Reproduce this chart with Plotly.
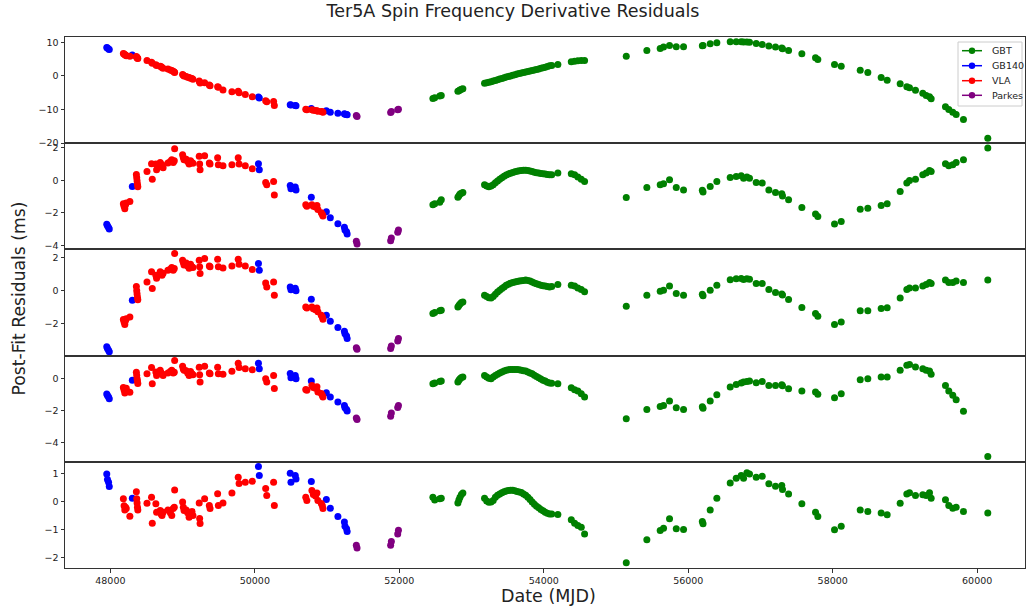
import plotly.graph_objects as go
from plotly.subplots import make_subplots

# ---------------- DATA ----------------
series_names = ["GBT", "GB140", "VLA", "Parkes"]
series_colors = {"GBT": "#008000", "GB140": "#0000ff", "VLA": "#ff0000", "Parkes": "#800080"}

gbt_mjd = [52465, 52490, 52560, 52581, 52811, 52825, 52840, 52860, 52880,
           53180, 53210, 53240, 53270, 53300, 53330, 53360, 53390, 53420, 53450, 53480, 53510,
           53540, 53570, 53600, 53630, 53660, 53690, 53720, 53750, 53780, 53810, 53840, 53870,
           53900, 53930, 53960, 53990, 54020, 54050, 54080, 54110,
           54195, 54381, 54427, 54472, 54519, 54565, 55142, 55427, 55612, 55658, 55741, 55834,
           55935, 56195, 56205, 56304, 56396, 56581, 56664, 56733, 56766, 56812, 56848, 56941,
           57024, 57116, 57208, 57295, 57305, 57389, 57573, 57762, 57794, 58025, 58118, 58381,
           58486, 58671, 58754, 58934, 59026, 59063, 59146, 59247, 59294, 59340, 59363, 59561,
           59607, 59662, 59709, 59810, 60147]
gbt_p1 = [-6.7, -6.5, -6.0, -5.8, -4.6, -4.4, -4.2, -4.0, -3.8,
          -2.2, -2.0, -1.9, -1.7, -1.55, -1.35, -1.15, -0.95, -0.75, -0.55, -0.35, -0.15,
          0.0, 0.2, 0.35, 0.55, 0.7, 0.9, 1.05, 1.2, 1.35, 1.5, 1.65, 1.8,
          1.95, 2.1, 2.25, 2.4, 2.6, 2.8, 3.0, 3.1,
          3.4, 4.2, 4.4, 4.5, 4.6, 4.6, 5.9, 7.6, 8.2, 8.6, 9.1, 8.7,
          8.7, 9.0, 9.1, 9.6, 9.9, 10.2, 10.2, 10.2, 10.1, 10.1, 10.0, 9.7,
          9.4, 8.9, 8.6, 8.3, 8.1, 7.6, 6.6, 5.4, 4.9, 3.4, 2.9, 1.7,
          1.0, -0.5, -1.3, -2.3, -3.2, -3.5, -4.3, -5.2, -5.8, -6.2, -6.8, -9.2,
          -10.0, -10.8, -11.5, -13.0, -18.6]
gbt_p2 = [-1.51, -1.45, -1.35, -1.2, -1.05, -0.95, -0.85, -0.8, -0.75,
          -0.28, -0.35, -0.4, -0.35, -0.28, -0.15, -0.05, 0.07, 0.15, 0.25, 0.32, 0.38,
          0.43, 0.48, 0.52, 0.56, 0.58, 0.6, 0.62, 0.62, 0.6, 0.57, 0.54, 0.5,
          0.47, 0.44, 0.42, 0.4, 0.38, 0.36, 0.34, 0.34,
          0.44, 0.4, 0.34, 0.2, 0.07, -0.07, -1.06, -0.44, -0.28, -0.22, 0.03, -0.44,
          -0.59, -0.62, -0.72, -0.38, -0.07, 0.17, 0.24, 0.28, 0.13, 0.2, 0.13, -0.13,
          -0.17, -0.59, -0.75, -0.83, -0.96, -1.2, -1.68, -2.07, -2.23, -2.69, -2.54, -1.78,
          -1.72, -1.55, -1.45, -0.69, -0.17, -0.01, 0.07, 0.34, 0.44, 0.6, 0.54, 1.02,
          0.9, 0.96, 1.1, 1.27, 1.99]
gbt_p3 = [-1.38, -1.32, -1.22, -1.18, -0.98, -0.9, -0.8, -0.72, -0.68,
          -0.27, -0.35, -0.42, -0.44, -0.35, -0.22, -0.08, 0.03, 0.13, 0.23, 0.33, 0.39,
          0.45, 0.5, 0.53, 0.56, 0.58, 0.6, 0.62, 0.64, 0.62, 0.58, 0.52, 0.47,
          0.42, 0.37, 0.33, 0.3, 0.28, 0.25, 0.23, 0.25,
          0.38, 0.33, 0.29, 0.17, 0.07, -0.07, -0.94, -0.27, -0.03, 0.03, 0.29, -0.17,
          -0.27, -0.22, -0.3, 0.03, 0.33, 0.66, 0.72, 0.74, 0.68, 0.72, 0.7, 0.44,
          0.44, 0.07, -0.11, -0.2, -0.26, -0.53, -1.02, -1.38, -1.55, -2.05, -1.89, -1.22,
          -1.22, -1.08, -1.04, -0.44, 0.07, 0.17, 0.17, 0.29, 0.38, 0.5, 0.44, 0.64,
          0.5, 0.5, 0.58, 0.5, 0.64]
gbt_p4 = [-0.31, -0.27, -0.18, -0.15, -0.21, -0.1, 0.0, 0.08, 0.1,
          0.2, 0.1, 0.02, 0.0, 0.1, 0.2, 0.28, 0.35, 0.42, 0.48, 0.52, 0.55,
          0.57, 0.58, 0.58, 0.57, 0.56, 0.53, 0.5, 0.48, 0.42, 0.36, 0.31, 0.22,
          0.14, 0.06, -0.02, -0.1, -0.15, -0.22, -0.27, -0.29,
          -0.31, -0.56, -0.69, -0.77, -0.94, -1.15, -2.5, -1.92, -1.73, -1.67, -1.4, -1.81,
          -1.92, -1.75, -1.85, -1.4, -1.0, -0.52, -0.36, -0.27, -0.21, -0.18, -0.15, -0.25,
          -0.17, -0.42, -0.42, -0.38, -0.45, -0.63, -0.77, -0.84, -0.98, -1.19, -0.94, -0.06,
          0.0, 0.1, 0.1, 0.52, 0.83, 0.88, 0.73, 0.62, 0.52, 0.48, 0.27, -0.42,
          -0.77, -1.04, -1.31, -2.04, -4.86]
gbt_p5 = [0.15, 0.05, 0.1, 0.12, -0.05, 0.05, 0.15, 0.25, 0.3,
          0.12, 0.02, -0.03, -0.02, 0.04, 0.15, 0.22, 0.27, 0.31, 0.35, 0.37, 0.39,
          0.4, 0.4, 0.38, 0.36, 0.34, 0.32, 0.27, 0.22, 0.15, 0.07, -0.02, -0.1,
          -0.17, -0.22, -0.28, -0.33, -0.38, -0.42, -0.44, -0.44,
          -0.46, -0.65, -0.77, -0.85, -0.91, -1.15, -2.17, -1.36, -1.03, -0.95, -0.61, -0.97,
          -0.99, -0.71, -0.79, -0.3, 0.12, 0.66, 0.83, 0.92, 0.83, 1.02, 0.98, 0.86,
          0.9, 0.63, 0.54, 0.57, 0.43, 0.27, -0.08, -0.38, -0.53, -1.0, -0.88, -0.3,
          -0.35, -0.41, -0.47, -0.06, 0.27, 0.31, 0.21, 0.24, 0.21, 0.31, 0.12, 0.06,
          -0.14, -0.24, -0.2, -0.35, -0.41]

gb140_mjd = [47950, 47960, 47975, 47985, 48304, 50050, 50062, 50490, 50500, 50560, 50570,
             50782, 50990, 51045, 51150, 51240, 51248, 51270, 51278]
gb140_p1 = [8.5, 8.3, 8.0, 7.9, 6.2, -6.3, -6.6, -8.6, -8.7, -8.8, -8.9,
            -9.7, -10.4, -10.8, -11.1, -11.3, -11.4, -11.5, -11.6]
gb140_p2 = [-2.7, -2.8, -2.9, -3.0, -0.38, 1.02, 0.65, -0.32, -0.52, -0.42, -0.59,
            -1.04, -1.93, -2.3, -2.67, -2.89, -3.06, -3.16, -3.3]
gb140_p3 = [-3.4, -3.5, -3.6, -3.7, -0.58, 1.65, 1.24, 0.23, 0.05, 0.15, 0.0,
            -0.52, -1.48, -1.85, -2.23, -2.45, -2.6, -2.74, -2.9]
gb140_p4 = [-0.95, -1.05, -1.15, -1.25, -0.1, 0.97, 0.62, 0.33, 0.05, 0.2, 0.0,
            -0.15, -0.88, -1.15, -1.46, -1.67, -1.81, -1.92, -2.02]
gb140_p5 = [0.98, 0.78, 0.68, 0.53, 0.12, 1.24, 0.92, 1.0, 0.68, 0.92, 0.8,
            0.71, 0.07, -0.24, -0.53, -0.73, -0.88, -0.97, -1.06]

vla_mjd = [48180, 48190, 48200, 48210, 48220, 48270, 48360, 48365, 48370, 48375, 48380,
           48507, 48570, 48580, 48630, 48640, 48690, 48705, 48715, 48730, 48797, 48830,
           48850, 48870, 48885, 48890, 49000, 49010, 49020, 49050, 49070, 49090, 49110,
           49130, 49143, 49230, 49236, 49242, 49305, 49370, 49380, 49485, 49495, 49559,
           49683, 49770, 49782, 49868, 49965, 50150, 50165, 50260, 50270, 50705, 50720,
           50790, 50810, 50840, 50860, 50873, 50920, 50935, 50943]
vla_p1 = [6.7, 6.5, 6.3, 6.2, 6.0, 5.9, 5.8, 5.6, 5.5, 5.3, 5.2,
          4.6, 4.1, 3.8, 3.3, 3.1, 2.9, 2.7, 2.5, 2.3, 2.1, 1.8,
          1.6, 1.4, 1.2, 1.0, 0.4, 0.2, 0.0, -0.2, -0.4, -0.5, -0.7,
          -0.8, -1.0, -1.5, -1.8, -2.1, -2.0, -2.7, -2.9, -3.2, -3.4, -4.2,
          -4.7, -4.6, -5.0, -5.5, -6.2, -7.4, -7.7, -7.6, -8.8, -9.9, -10.1,
          -10.1, -10.2, -10.3, -10.4, -10.5, -10.6, -10.7, -10.8]
vla_p2 = [-1.45, -1.6, -1.75, -1.5, -1.4, -1.3, 0.35, 0.15, -0.05, -0.25, -0.4,
          0.54, 1.02, 0.07, 1.0, 0.65, 1.1, 0.85, 0.95, 0.77, 1.06, 1.15,
          1.26, 1.1, 1.2, 1.94, 1.57, 1.4, 1.26, 1.3, 1.15, 1.0, 1.2,
          1.1, 1.05, 1.47, 1.0, 0.65, 1.51, 1.06, 1.0, 1.38, 0.96, 0.9,
          0.96, 1.38, 1.0, 0.9, 0.71, -0.13, -0.28, -0.07, -0.9, -1.51, -1.6,
          -1.5, -1.6, -1.65, -1.55, -1.8, -2.0, -2.1, -2.2]
vla_p3 = [-1.75, -1.9, -2.05, -1.8, -1.7, -1.6, 0.25, 0.0, -0.2, -0.4, -0.55,
          0.53, 1.14, 0.13, 0.94, 0.76, 1.14, 1.0, 0.94, 1.05, 1.24, 1.3,
          1.4, 1.24, 1.35, 2.25, 1.85, 1.7, 1.55, 1.67, 1.5, 1.36, 1.6,
          1.45, 1.4, 1.85, 1.45, 1.04, 1.95, 1.5, 1.45, 1.9, 1.45, 1.38,
          1.5, 1.9, 1.6, 1.5, 1.28, 0.47, 0.23, 0.53, -0.27, -0.98, -1.05,
          -0.98, -1.1, -1.15, -1.05, -1.28, -1.48, -1.6, -1.73]
vla_p4 = [-0.55, -0.7, -0.9, -0.75, -0.6, -0.85, 0.4, 0.2, 0.0, -0.15, -0.3,
          0.31, 0.69, -0.31, 0.41, 0.2, 0.52, 0.35, 0.3, 0.2, 0.35, 0.45,
          0.52, 0.35, 0.4, 1.14, 0.77, 0.6, 0.52, 0.5, 0.35, 0.2, 0.45,
          0.3, 0.25, 0.72, 0.25, -0.21, 0.77, 0.35, 0.3, 0.72, 0.31, 0.27,
          0.47, 0.96, 0.7, 0.62, 0.56, 0.0, -0.21, 0.2, -0.62, -0.67, -0.72,
          -0.42, -0.55, -0.6, -0.5, -0.84, -0.92, -1.05, -1.15]
vla_p5 = [0.1, -0.15, -0.3, -0.2, -0.25, -0.52, 0.35, 0.1, -0.05, -0.2, -0.3,
          -0.06, 0.15, -0.77, -0.08, -0.38, -0.32, -0.45, -0.5, -0.38, -0.3, -0.4,
          -0.5, -0.25, -0.2, 0.41, -0.02, -0.2, -0.32, -0.3, -0.4, -0.56, -0.45,
          -0.35, -0.5, -0.05, -0.6, -0.78, 0.1, -0.14, -0.25, 0.28, -0.14, -0.05,
          0.3, 0.86, 0.64, 0.68, 0.72, 0.46, 0.21, 0.68, -0.14, 0.15, 0.04,
          0.39, 0.25, 0.2, 0.3, 0.04, -0.07, -0.15, -0.25]

parkes_mjd = [51405, 51415, 51880, 51890, 51978, 51988]
parkes_p1 = [-11.8, -12.1, -10.9, -10.6, -10.1, -9.9]
parkes_p2 = [-3.75, -3.92, -3.72, -3.55, -3.2, -3.05]
parkes_p3 = [-3.45, -3.55, -3.5, -3.35, -3.05, -2.9]
parkes_p4 = [-2.45, -2.55, -2.35, -2.15, -1.8, -1.68]
parkes_p5 = [-1.55, -1.65, -1.55, -1.42, -1.15, -1.02]

series_data = {
    "GBT": (gbt_mjd, [gbt_p1, gbt_p2, gbt_p3, gbt_p4, gbt_p5]),
    "GB140": (gb140_mjd, [gb140_p1, gb140_p2, gb140_p3, gb140_p4, gb140_p5]),
    "VLA": (vla_mjd, [vla_p1, vla_p2, vla_p3, vla_p4, vla_p5]),
    "Parkes": (parkes_mjd, [parkes_p1, parkes_p2, parkes_p3, parkes_p4, parkes_p5]),
}

panel_ranges = [[-20.05, 11.6], [-4.25, 2.28], [-3.93, 2.5], [-5.19, 1.44], [-2.36, 1.41]]
panel_dticks = [10, 2, 2, 2, 1]
x_ticks = [48000, 50000, 52000, 54000, 56000, 58000, 60000]
x_range = [47372, 60662]

# ---------------- FIGURE ----------------
W, H = 1026, 609
ML, MR, MT, MB = 65, 1, 37, 41
PW, PH = W - ML - MR, H - MT - MB

fig = make_subplots(rows=5, cols=1, shared_xaxes=True, vertical_spacing=0)

for name in ["GB140", "VLA", "Parkes", "GBT"]:
    mjd, panels = series_data[name]
    for i, vals in enumerate(panels):
        fig.add_trace(go.Scatter(x=mjd, y=vals, mode="markers",
                                 marker=dict(color=series_colors[name], size=7, line=dict(width=0)),
                                 showlegend=False, name=name),
                      row=i + 1, col=1)

font_family = "DejaVu Sans"
for i in range(5):
    fig.update_yaxes(range=panel_ranges[i], dtick=panel_dticks[i], tick0=0,
                     showline=True, mirror=True, linecolor="#333", linewidth=1,
                     ticks="outside", ticklen=3.5, tickcolor="#333",
                     tickfont=dict(size=9.5, color="#222", family=font_family),
                     showgrid=False, zeroline=False, row=i + 1, col=1)
    fig.update_xaxes(range=x_range, tickvals=x_ticks, tickformat="d",
                     showline=True, mirror=True, linecolor="#333", linewidth=1,
                     ticks="outside" if i == 4 else "", ticklen=3.5, tickcolor="#333",
                     tickfont=dict(size=9.5, color="#222", family=font_family),
                     showgrid=False, zeroline=False, row=i + 1, col=1)


def px_x(px):
    return (px - ML) / PW


def px_y(py):
    return (H - MB - py) / PH


# legend box drawn in matplotlib style (compact row spacing)
shapes = [dict(type="rect", xref="paper", yref="paper",
               x0=px_x(958), x1=px_x(1022), y0=px_y(106), y1=px_y(42),
               line=dict(color="#cccccc", width=1), fillcolor="rgba(255,255,255,0.85)",
               layer="above")]
annotations = []
legend_rows_y = [50.7, 65.7, 80.7, 95.3]
for name, ry in zip(series_names, legend_rows_y):
    c = series_colors[name]
    shapes.append(dict(type="line", xref="paper", yref="paper",
                       x0=px_x(962), x1=px_x(982), y0=px_y(ry), y1=px_y(ry),
                       line=dict(color=c, width=1.5), layer="above"))
    shapes.append(dict(type="circle", xref="paper", yref="paper",
                       xsizemode="pixel", ysizemode="pixel",
                       xanchor=px_x(972), yanchor=px_y(ry),
                       x0=-3.2, x1=3.2, y0=-3.2, y1=3.2,
                       fillcolor=c, line=dict(color=c, width=0), layer="above"))
    annotations.append(dict(text=name, xref="paper", yref="paper",
                            x=px_x(990), y=px_y(ry), xanchor="left", yanchor="middle",
                            showarrow=False,
                            font=dict(size=9.5, family=font_family, color="#222")))

annotations += [
    dict(text="Post-Fit Residuals (ms)", textangle=-90, xref="paper", yref="paper",
         x=px_x(18), y=px_y(298.5), xanchor="center", yanchor="middle", showarrow=False,
         font=dict(size=17.2, family=font_family, color="#222")),
    dict(text="Date (MJD)", xref="paper", yref="paper", x=px_x(548.5), y=px_y(596),
         xanchor="center", yanchor="middle", showarrow=False,
         font=dict(size=17.5, family=font_family, color="#222")),
]

fig.update_layout(
    width=W, height=H,
    margin=dict(l=ML, r=MR, t=MT, b=MB),
    paper_bgcolor="white", plot_bgcolor="white",
    font=dict(family=font_family, color="#222"),
    showlegend=False,
    title=dict(text="Ter5A Spin Frequency Derivative Residuals", x=0.5, xref="container",
               y=1 - 11 / H, yref="container", yanchor="middle",
               font=dict(size=17.5, color="#222", family=font_family)),
    shapes=shapes,
    annotations=annotations,
)

fig.write_html("out.html")
